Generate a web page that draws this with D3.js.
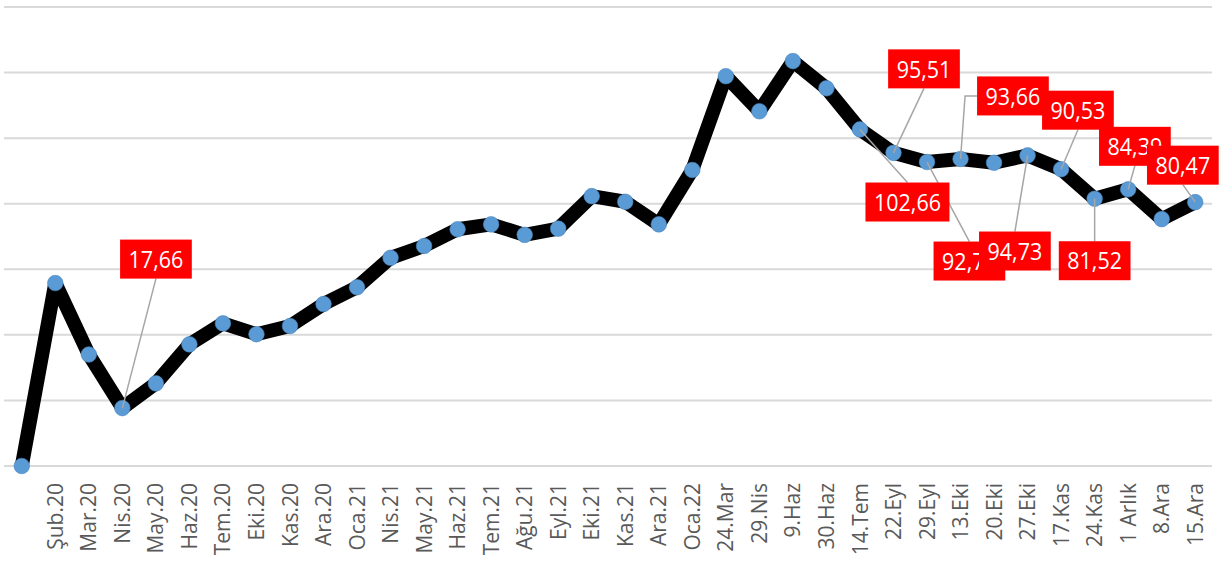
<!DOCTYPE html>
<html>
<head>
<meta charset="utf-8">
<script src="https://cdn.jsdelivr.net/npm/d3@7"></script>
<style>
  html, body { margin: 0; padding: 0; background: #ffffff; }
  svg { display: block; }
</style>
</head>
<body>
<svg id="chart" width="1228" height="562"></svg>
<script>
// ---- data ----
const categories = ["", "Şub.20", "Mar.20", "Nis.20", "May.20", "Haz.20", "Tem.20", "Eki.20", "Kas.20", "Ara.20",
  "Oca.21", "Nis.21", "May.21", "Haz.21", "Tem.21", "Ağu.21", "Eyl.21", "Eki.21", "Kas.21", "Ara.21",
  "Oca.22", "24.Mar", "29.Nis", "9.Haz", "30.Haz", "14.Tem", "22.Eyl", "29.Eyl", "13.Eki", "20.Eki",
  "27.Eki", "17.Kas", "24.Kas", "1 Arlık", "8.Ara", "15.Ara"];
const values = [0, 55.8, 34.0, 17.66, 25.2, 37.1, 43.5, 40.2, 42.7, 49.4,
  54.5, 63.5, 67.1, 72.2, 73.7, 70.5, 72.4, 82.3, 80.6, 73.7,
  90.3, 118.9, 108.2, 123.5, 115.2, 102.66, 95.51, 92.71, 93.66, 92.5,
  94.73, 90.53, 81.52, 84.39, 75.3, 80.47];
const yTicks = [0, 20, 40, 60, 80, 100, 120, 140];
const labelIndex = [3, 25, 26, 27, 28, 30, 31, 32, 33, 35];

// ---- layout (label box centre offsets from the point, leader anchor side) ----
const labelLayout = [
  [33.6, -149, "b"], [47.5, 72.6, "t"], [30.5, -84, "b"], [42.4, 99, "t"], [52.4, -63, "l"],
  [-12.7, 95.6, "t"], [16.8, -59, "b"], [0, 62, "t"], [6.7, -43, "b"], [-12.4, -37, "b"]
];

const svg = d3.select("#chart");
const x = d3.scaleBand().domain(d3.range(categories.length)).range([5, 1212]).padding(0);
const y = d3.scaleLinear().domain([0, 140]).range([466, 7]);
const cx = i => x(i) + x.bandwidth() / 2;

// gridlines
svg.append("g").selectAll("line").data(yTicks).join("line")
  .attr("x1", 4).attr("x2", 1212)
  .attr("y1", d => y(d)).attr("y2", d => y(d))
  .attr("stroke", "#d9d9d9").attr("stroke-width", 2);

// x axis
const xAxis = svg.append("g").attr("transform", `translate(0,${y(0)})`)
  .call(d3.axisBottom(x).tickSize(0).tickFormat(i => categories[i]));
xAxis.select(".domain").remove();
xAxis.selectAll("text")
  .attr("transform", "rotate(-90)")
  .attr("x", -17).attr("y", 0).attr("dy", "0.36em")
  .attr("text-anchor", "end")
  .attr("fill", "#595959")
  .style("font-family", "'Open Sans', 'Noto Sans', sans-serif")
  .style("font-size", "21px");

// line
const line = d3.line().x((d, i) => cx(i)).y(d => y(d));
svg.append("path").datum(values)
  .attr("d", line).attr("fill", "none")
  .attr("stroke", "#000").attr("stroke-width", 14)
  .attr("stroke-linejoin", "round");

// markers
svg.append("g").selectAll("circle").data(values).join("circle")
  .attr("cx", (d, i) => cx(i)).attr("cy", d => y(d)).attr("r", 7.8)
  .attr("fill", "#5b9bd5").attr("stroke", "#4a86c0").attr("stroke-width", 0.6);

// data labels
const fmt = v => d3.format(".2f")(v).replace(".", ",");
const boxH = 39;
const labels = labelIndex.map((idx, k) => ({
  idx, px: cx(idx), py: y(values[idx]),
  bx: cx(idx) + labelLayout[k][0], by: y(values[idx]) + labelLayout[k][1],
  side: labelLayout[k][2], text: fmt(values[idx])
}));

// leader lines
const leaders = svg.append("g");
const textGroup = svg.append("g");
labels.forEach(l => {
  const g = textGroup.append("g").attr("transform", `translate(${l.bx},${l.by})`);
  const rect = g.append("rect").attr("fill", "#ff0000");
  const t = g.append("text")
    .attr("text-anchor", "middle").attr("dy", "0.36em")
    .attr("fill", "#fff")
    .attr("transform", "scale(1,1.12)")
    .style("font-family", "'Open Sans', 'Noto Sans', sans-serif")
    .style("font-size", "21.5px")
    .text(l.text);
  const w = t.node().getComputedTextLength() + 17;
  rect.attr("x", -w / 2).attr("y", -boxH / 2).attr("width", w).attr("height", boxH);
  let pts;
  if (l.side === "b") pts = [[l.px, l.py], [l.bx, l.by + boxH / 2]];
  else if (l.side === "t") pts = [[l.px, l.py], [l.bx, l.by - boxH / 2]];
  else pts = [[l.px, l.py], [l.bx - w / 2 - 12, l.by], [l.bx - w / 2, l.by]];
  leaders.append("path").attr("d", d3.line()(pts))
    .attr("fill", "none").attr("stroke", "#a6a6a6").attr("stroke-width", 1.5);
});
</script>
</body>
</html>
